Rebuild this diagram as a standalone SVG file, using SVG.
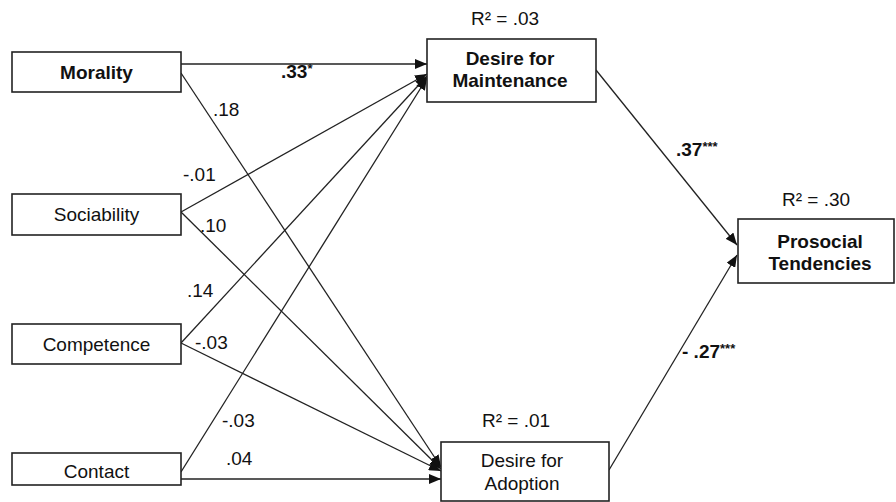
<svg xmlns="http://www.w3.org/2000/svg" width="896" height="502" viewBox="0 0 896 502">
<defs>
<style>
.box{fill:#fff;stroke:#222;stroke-width:1.6}
.t{font-family:"Liberation Sans",Arial,sans-serif;font-size:19px;fill:#111}
.b{font-weight:bold}
.c{text-anchor:middle}
.ln{stroke:#222;stroke-width:1.3;fill:none;marker-end:url(#ah)}
.st{font-size:13px}
</style>
<marker id="ah" viewBox="0 0 12 10" refX="12" refY="5" markerWidth="12" markerHeight="10" markerUnits="userSpaceOnUse" orient="auto">
<path d="M0,0 L12,5 L0,10 z" fill="#111"/>
</marker>
</defs>
<rect width="896" height="502" fill="#fff"/>
<g id="connectors">
<line class="ln" x1="181" y1="64" x2="427" y2="64"/>
<line class="ln" x1="181" y1="73" x2="441" y2="467"/>
<line class="ln" x1="181" y1="212" x2="427" y2="74"/>
<line class="ln" x1="181" y1="212" x2="441" y2="469"/>
<line class="ln" x1="181" y1="343" x2="427" y2="76"/>
<line class="ln" x1="181" y1="343" x2="441" y2="471"/>
<line class="ln" x1="181" y1="472" x2="427" y2="78"/>
<line class="ln" x1="181" y1="479" x2="441" y2="479"/>
<line class="ln" x1="596" y1="70" x2="737" y2="245"/>
<line class="ln" x1="609" y1="470" x2="737" y2="255"/>
</g>
<g id="labels">
<text class="t b" x="281" y="78">.33<tspan class="st" dy="-5">*</tspan></text>
<text class="t" x="213" y="116">.18</text>
<text class="t" x="183" y="181">-.01</text>
<text class="t" x="200" y="232">.10</text>
<text class="t" x="187" y="297">.14</text>
<text class="t" x="195" y="349">-.03</text>
<text class="t" x="222" y="427">-.03</text>
<text class="t" x="226" y="465">.04</text>
<text class="t b" x="676" y="156">.37<tspan class="st" dy="-5">***</tspan></text>
<text class="t b" x="682" y="358">- .27<tspan class="st" dy="-5">***</tspan></text>
</g>
<g id="morality">
<rect class="box" x="12" y="52" width="169" height="40"/>
<text class="t b c" x="96.5" y="79">Morality</text>
</g>
<g id="sociability">
<rect class="box" x="12" y="194" width="169" height="41"/>
<text class="t c" x="96.5" y="221">Sociability</text>
</g>
<g id="competence">
<rect class="box" x="12" y="324" width="169" height="40"/>
<text class="t c" x="96.5" y="351">Competence</text>
</g>
<g id="contact">
<rect class="box" x="12" y="453" width="169" height="32"/>
<text class="t c" x="96.5" y="478">Contact</text>
</g>
<g id="maintenance">
<text class="t c" x="505" y="25">R² = .03</text>
<rect class="box" x="427" y="39" width="169" height="63"/>
<text class="t b c" x="510" y="65">Desire for</text>
<text class="t b c" x="510" y="87">Maintenance</text>
</g>
<g id="adoption">
<text class="t c" x="516" y="427">R² = .01</text>
<rect class="box" x="441" y="442" width="168" height="59"/>
<text class="t c" x="522" y="467">Desire for</text>
<text class="t c" x="522" y="490">Adoption</text>
</g>
<g id="prosocial">
<text class="t c" x="816" y="206">R² = .30</text>
<rect class="box" x="738" y="219" width="156" height="64"/>
<text class="t b c" x="820" y="248">Prosocial</text>
<text class="t b c" x="820" y="270">Tendencies</text>
</g>
</svg>
